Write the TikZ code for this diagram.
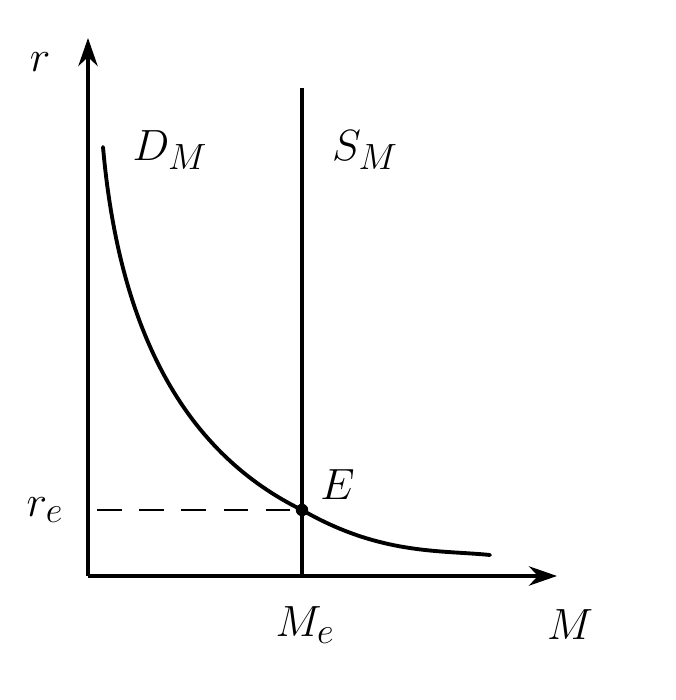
\documentclass[tikz,border=0pt]{standalone}
\usepackage{amsmath}
\usepackage{tikz}
\usetikzlibrary{arrows.meta, positioning}

\begin{document}
\begin{tikzpicture}[line width=2.2pt, font=\fontsize{30}{32}\selectfont,
    lbl/.style={inner sep=0pt}]
        \useasboundingbox (0, 0) rectangle (13.5, 14);
        \coordinate (o) at (1.76, 2.48);
        \coordinate (ytip) at (1.76, 13.24);
        \coordinate (xtip) at (11.14, 2.48);
        \coordinate (stop) at (6.04, 12.24);
        \coordinate (sbot) at (6.04, 2.48);
        \coordinate (dstart) at (2.06, 11.06);
        \coordinate (dend) at (9.8, 2.9);
        \coordinate (rline) at (1.94, 3.8);
        \node[circle, fill, inner sep=2.5pt] (e) at (6.04, 3.8) {};
        
        \draw[-{Stealth[length=16pt, width=11pt]}] (o) to (ytip);
        \draw[-{Stealth[length=16pt, width=11pt]}] (o) to (xtip);
        \draw[line width=1.8pt] (sbot) to (stop);
        \draw[line width=1.2pt, dash pattern=on 14pt off 10pt] (rline) to (e);
        \draw[line cap=round] (dstart) .. controls (2.4, 7.2) and (3.8, 4.9) .. (e.center)
            .. controls (7.6, 2.9) and (8.8, 3.0) .. (dend);
        
        \node[lbl] (r) at (0.8, 12.76) {$r$};
        \node[lbl] (dm) at (3.4, 11.0) {$D_M$};
        \node[lbl] (sm) at (7.3, 11.0) {$S_M$};
        \node[lbl] (elab) at (6.75, 4.3) {$E$};
        \node[lbl] (re) at (0.9, 3.8) {$r_e$};
        \node[lbl] (me) at (6.1, 1.5) {$M_e$};
        \node[lbl] (m) at (11.4, 1.5) {$M$};
    \end{tikzpicture}
\end{document}
